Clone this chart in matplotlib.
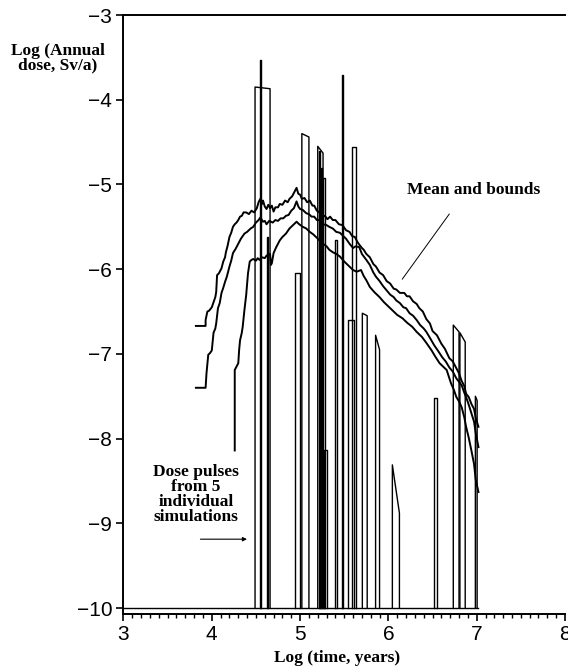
import matplotlib.pyplot as plt

# upper bound curve (log time, log dose)
upper_t = [3.82, 3.93, 3.93, 3.95, 3.97, 4.00, 4.02, 4.04, 4.05, 4.06, 4.08, 4.11, 4.13, 4.15,
           4.16, 4.18, 4.20, 4.22, 4.24, 4.26, 4.28, 4.30, 4.32, 4.34, 4.36, 4.39, 4.42, 4.45,
           4.48, 4.51, 4.53, 4.55, 4.57, 4.58, 4.60, 4.62, 4.64, 4.66, 4.68, 4.70, 4.72, 4.75,
           4.77, 4.80, 4.83, 4.86, 4.88, 4.91, 4.94, 4.96, 4.98, 5.00, 5.02, 5.05, 5.08, 5.11,
           5.14, 5.16, 5.19, 5.22, 5.25, 5.28, 5.31, 5.34, 5.37, 5.40, 5.44, 5.48, 5.52, 5.56,
           5.59, 5.62, 5.65, 5.67, 5.70, 5.72, 5.75, 5.79, 5.83, 5.86, 5.90, 5.94, 5.98, 6.02,
           6.06, 6.09, 6.13, 6.18, 6.21, 6.24, 6.28, 6.32, 6.35, 6.39, 6.43, 6.47, 6.50, 6.55,
           6.60, 6.64, 6.69, 6.73, 6.77, 6.80, 6.83, 6.86, 6.88, 6.91, 6.94, 6.97, 6.99, 7.02]
upper_d = [-6.67, -6.67, -6.60, -6.50, -6.49, -6.45, -6.39, -6.33, -6.27, -6.07, -6.05, -5.99,
           -5.91, -5.86, -5.80, -5.72, -5.62, -5.57, -5.50, -5.47, -5.45, -5.42, -5.38, -5.37,
           -5.33, -5.33, -5.35, -5.31, -5.33, -5.28, -5.21, -5.17, -5.23, -5.19, -5.26, -5.29,
           -5.24, -5.28, -5.25, -5.32, -5.27, -5.27, -5.23, -5.24, -5.19, -5.21, -5.17, -5.14,
           -5.08, -5.04, -5.11, -5.12, -5.17, -5.16, -5.21, -5.19, -5.25, -5.25, -5.31, -5.33,
           -5.38, -5.37, -5.41, -5.38, -5.42, -5.42, -5.47, -5.48, -5.54, -5.56, -5.61, -5.62,
           -5.68, -5.71, -5.75, -5.77, -5.82, -5.86, -5.94, -5.97, -6.04, -6.07, -6.14, -6.17,
           -6.23, -6.24, -6.28, -6.28, -6.32, -6.32, -6.38, -6.41, -6.46, -6.50, -6.59, -6.64,
           -6.73, -6.78, -6.88, -6.94, -7.05, -7.09, -7.17, -7.23, -7.32, -7.38, -7.47, -7.51,
           -7.59, -7.65, -7.76, -7.86]

# mean curve
mean_t = [3.82, 3.93, 3.94, 3.96, 3.98, 4.00, 4.02, 4.04, 4.05, 4.07, 4.09, 4.11, 4.13, 4.15,
          4.17, 4.20, 4.22, 4.24, 4.27, 4.30, 4.33, 4.37, 4.40, 4.44, 4.47, 4.50, 4.53, 4.55,
          4.58, 4.60, 4.62, 4.65, 4.69, 4.72, 4.75, 4.78, 4.81, 4.84, 4.87, 4.90, 4.93, 4.96,
          4.98, 5.00, 5.03, 5.07, 5.10, 5.13, 5.16, 5.19, 5.22, 5.26, 5.30, 5.33, 5.37, 5.41,
          5.45, 5.48, 5.52, 5.56, 5.60, 5.63, 5.67, 5.70, 5.75, 5.79, 5.83, 5.86, 5.90, 5.94,
          5.98, 6.02, 6.06, 6.09, 6.13, 6.17, 6.20, 6.24, 6.28, 6.32, 6.36, 6.40, 6.43, 6.47,
          6.52, 6.56, 6.61, 6.65, 6.69, 6.73, 6.77, 6.80, 6.83, 6.86, 6.88, 6.91, 6.94, 6.97,
          6.99, 7.02]
mean_d = [-7.40, -7.40, -7.23, -7.01, -6.99, -6.96, -6.75, -6.70, -6.64, -6.46, -6.40, -6.28,
          -6.22, -6.15, -6.09, -5.97, -5.90, -5.81, -5.76, -5.70, -5.64, -5.58, -5.56, -5.52,
          -5.50, -5.45, -5.42, -5.39, -5.44, -5.43, -5.47, -5.43, -5.45, -5.42, -5.43, -5.40,
          -5.40, -5.37, -5.36, -5.31, -5.28, -5.20, -5.26, -5.29, -5.30, -5.34, -5.35, -5.38,
          -5.38, -5.42, -5.42, -5.47, -5.48, -5.50, -5.52, -5.56, -5.57, -5.60, -5.64, -5.70,
          -5.75, -5.73, -5.74, -5.82, -5.89, -5.95, -6.04, -6.09, -6.14, -6.20, -6.25, -6.30,
          -6.33, -6.37, -6.40, -6.45, -6.46, -6.52, -6.55, -6.60, -6.66, -6.70, -6.74, -6.81,
          -6.90, -6.96, -7.04, -7.09, -7.16, -7.21, -7.29, -7.33, -7.37, -7.46, -7.51, -7.60,
          -7.70, -7.80, -7.94, -8.10]

# lower bound curve
lower_t = [4.26, 4.26, 4.28, 4.30, 4.31, 4.32, 4.34, 4.35, 4.37, 4.39, 4.41, 4.43, 4.45, 4.47,
           4.50, 4.52, 4.54, 4.57, 4.60, 4.62, 4.64, 4.66, 4.67, 4.68, 4.70, 4.73, 4.77, 4.80,
           4.84, 4.88, 4.92, 4.96, 4.99, 5.03, 5.07, 5.11, 5.15, 5.18, 5.22, 5.26, 5.30, 5.33,
           5.37, 5.41, 5.45, 5.50, 5.56, 5.60, 5.64, 5.69, 5.72, 5.75, 5.79, 5.84, 5.90, 5.95,
           6.01, 6.05, 6.10, 6.16, 6.21, 6.27, 6.32, 6.38, 6.43, 6.49, 6.53, 6.58, 6.62, 6.66,
           6.71, 6.74, 6.77, 6.80, 6.83, 6.86, 6.88, 6.91, 6.94, 6.97, 6.99, 7.02]
lower_d = [-8.14, -7.19, -7.15, -7.11, -6.95, -6.84, -6.75, -6.68, -6.48, -6.30, -6.05, -5.91,
           -5.89, -5.88, -5.90, -5.87, -5.89, -5.86, -5.87, -5.84, -5.83, -5.82, -5.95, -5.93,
           -5.81, -5.74, -5.66, -5.62, -5.58, -5.52, -5.48, -5.44, -5.47, -5.50, -5.52, -5.56,
           -5.59, -5.62, -5.66, -5.70, -5.73, -5.77, -5.80, -5.82, -5.85, -5.91, -5.97, -6.01,
           -6.03, -6.01, -6.08, -6.13, -6.21, -6.27, -6.33, -6.39, -6.45, -6.49, -6.54, -6.58,
           -6.63, -6.68, -6.74, -6.80, -6.87, -6.96, -7.03, -7.11, -7.15, -7.19, -7.35, -7.42,
           -7.51, -7.56, -7.63, -7.75, -7.86, -7.99, -8.14, -8.30, -8.49, -8.63]

# dose pulses from individual simulations: start, end, top at start, top at end
pulse_start = [4.49, 4.545, 4.62, 4.94, 5.02, 5.20, 5.215, 5.235, 5.255, 5.27, 5.40,
               5.48, 5.54, 5.59, 5.705, 5.855, 6.045, 6.52, 6.735, 6.81, 6.985]
pulse_end = [4.66, 4.56, 4.64, 5.00, 5.10, 5.26, 5.225, 5.25, 5.28, 5.31, 5.42,
             5.49, 5.61, 5.635, 5.76, 5.90, 6.125, 6.555, 6.80, 6.87, 7.005]
pulse_top_start = [-3.85, -3.53, -5.62, -6.04, -4.40, -4.55, -4.60, -4.80, -4.92, -8.14, -5.65,
                   -3.71, -6.60, -4.56, -6.52, -6.78, -8.31, -7.52, -6.66, -6.75, -7.50]
pulse_top_end = [-3.87, -3.53, -5.62, -6.04, -4.44, -4.63, -4.60, -4.80, -4.92, -8.14, -5.65,
                 -3.71, -6.60, -4.56, -6.55, -6.95, -8.88, -7.52, -6.74, -6.86, -7.55]

base_level = -10.0
base_t = [3.0, 7.02]

fig = plt.figure(figsize=(5.68, 6.70), dpi=100)
ax = fig.add_axes([0.2174, 0.0836, 0.7773, 0.894])

# baseline of the pulses
ax.plot(base_t, [base_level, base_level], color='black', lw=1.0)

for i in range(len(pulse_start)):
    xs = [pulse_start[i], pulse_start[i], pulse_end[i], pulse_end[i]]
    ys = [base_level, pulse_top_start[i], pulse_top_end[i], base_level]
    ax.plot(xs, ys, color='black', lw=1.0)

ax.plot(upper_t, upper_d, color='black', lw=1.4)
ax.plot(mean_t, mean_d, color='black', lw=1.4)
ax.plot(lower_t, lower_d, color='black', lw=1.4)

ax.set_xlim(3, 8)
ax.set_ylim(-10.07, -3)
ax.set_xticks([3, 4, 5, 6, 7, 8])
ax.set_xticks([3 + i * 0.1 for i in range(51)], minor=True)
ax.set_yticks([-3, -4, -5, -6, -7, -8, -9, -10])
ax.tick_params(axis='both', which='major', direction='out', length=5, width=1.2,
               labelsize=15, pad=3)
ax.tick_params(axis='x', which='minor', direction='out', length=3, width=1.0)
for lab in ax.get_xticklabels() + ax.get_yticklabels():
    lab.set_family('Liberation Sans')

for side in ['left', 'bottom', 'top']:
    ax.spines[side].set_linewidth(1.4)
ax.spines['right'].set_visible(False)

serif = dict(family='Liberation Serif', weight='bold', fontsize=12.5)

fig.text(58 / 568, 1 - 58 / 670, 'Log (Annual\ndose, Sv/a)', ha='center', va='center',
         linespacing=0.85, **serif)
fig.text(337 / 568, 1 - 658 / 670, 'Log (time, years)', ha='center', va='center', **serif)

ax.text(6.96, -5.07, 'Mean and bounds', ha='center', va='center', **serif)
ax.plot([6.689, 6.158], [-5.35, -6.117], color='black', lw=0.7)

ax.text(3.82, -8.66, 'Dose pulses\nfrom 5\nindividual\nsimulations', ha='center', va='center',
        multialignment='center', linespacing=0.93, **serif)
ax.annotate('', xy=(4.43, -9.187), xytext=(3.84, -9.187),
            arrowprops=dict(arrowstyle='-|>', lw=0.8, color='black', mutation_scale=6))

plt.savefig('out.png', dpi=100)
